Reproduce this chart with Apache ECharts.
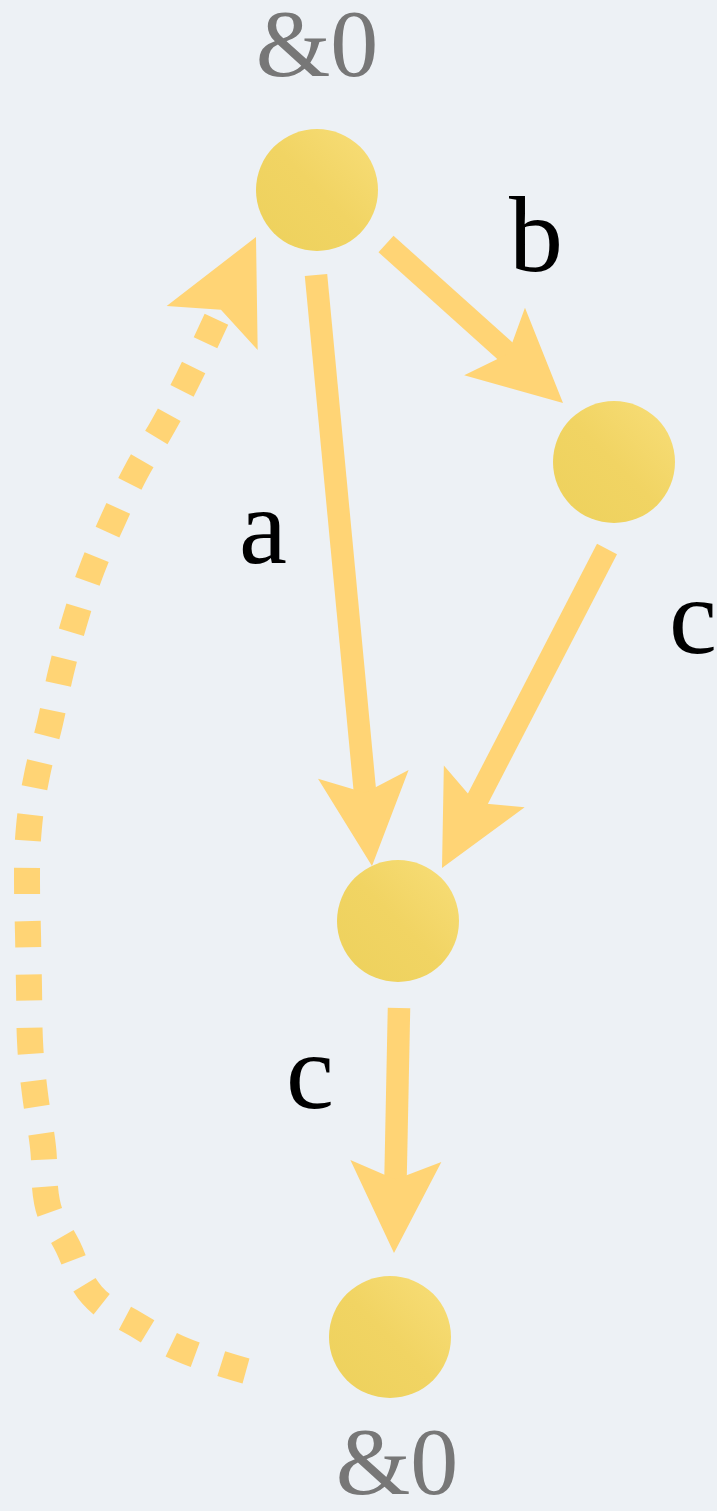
<!DOCTYPE html>
<html>
<head>
<meta charset="utf-8">
<script src="https://cdn.jsdelivr.net/npm/echarts@6/dist/echarts.min.js"></script>
<style>
    html, body { margin: 0; padding: 0; background: #EDF1F5; }
    #chart { width: 717px; height: 1511px; }
</style>
</head>
<body>
<div id="chart"></div>
<script>
// nodes, in layout units (x to the right, y downwards)
const nodeX = [317, 614, 398, 390];
const nodeY = [190, 462, 921, 1337];
const nodeTag = ["&0", "", "", "&0"];
const tagX = [317, null, null, 397];
const tagY = [51, null, null, 1469];

// solid edges: start of the shaft -> tip of the arrow
const edgeName = ["a", "b", "c", "c"];
const edgeX0 = [316, 386, 607, 399];
const edgeY0 = [275, 244, 549, 1008];
const edgeX1 = [372, 563, 442, 394];
const edgeY1 = [866, 403, 868, 1253];
const edgeLabelX = [263, 536, 693, 310];
const edgeLabelY = [535, 243, 625, 1080];

// dotted edge from the last &0 back to the first one
const loopX = [246, 183, 137, 92, 68, 47, 43, 35, 30, 29, 28, 27, 29, 37, 50, 61, 75, 92, 113, 136, 163, 188, 217];
const loopY = [1371, 1350, 1325, 1295, 1247, 1202, 1147, 1094, 1041, 987, 934, 881, 827, 775, 723, 672, 620, 569, 520, 472, 426, 379, 318];
const loopTip = [256, 237];

const EDGE_COLOR = "#FFD475";
const TEXT_FONT = "\"Liberation Serif\", \"DejaVu Serif\", serif";

function arrowHead(tip, d, len, wid) {
    const n = [-d[1], d[0]];
    const bx = tip[0] - d[0] * len;
    const by = tip[1] - d[1] * len;
    return [
        tip,
        [bx + n[0] * wid / 2, by + n[1] * wid / 2],
        [tip[0] - d[0] * len * 0.8, tip[1] - d[1] * len * 0.8],
        [bx - n[0] * wid / 2, by - n[1] * wid / 2],
    ];
}

function textEl(x, y, text, size, color) {
    return {
        type: "text",
        x: x,
        y: y,
        style: {
            text: text,
            fill: color,
            font: size + "px " + TEXT_FONT,
            align: "center",
            verticalAlign: "middle",
        },
    };
}

const chart = echarts.init(document.getElementById("chart"));

chart.setOption({
    backgroundColor: "#EDF1F5",
    animation: false,
    grid: { left: 0, right: 0, top: 0, bottom: 0 },
    xAxis: { type: "value", min: 0, max: 717, show: false },
    yAxis: { type: "value", min: 0, max: 1511, inverse: true, show: false },
    series: [
        {
            // dotted back edge
            name: "loop",
            type: "line",
            silent: true,
            smooth: 0.4,
            showSymbol: false,
            symbol: "none",
            data: loopX.map((x, i) => [x, loopY[i]]),
            lineStyle: {
                color: EDGE_COLOR,
                width: 26,
                type: [26, 27.3],
                cap: "butt",
                join: "miter",
            },
            z: 1,
        },
        {
            // arrow head of the dotted edge
            name: "loopArrow",
            type: "custom",
            silent: true,
            data: [[loopX[loopX.length - 1], loopY[loopY.length - 1], loopTip[0], loopTip[1]]],
            renderItem: function (params, api) {
                const p0 = api.coord([api.value(0), api.value(1)]);
                const p1 = api.coord([api.value(2), api.value(3)]);
                const l = Math.hypot(p1[0] - p0[0], p1[1] - p0[1]);
                const d = [(p1[0] - p0[0]) / l, (p1[1] - p0[1]) / l];
                return {
                    type: "polygon",
                    shape: { points: arrowHead(p1, d, 101, 101) },
                    style: { fill: EDGE_COLOR },
                };
            },
            z: 2,
        },
        {
            // solid edges with their letters
            name: "edges",
            type: "custom",
            silent: true,
            data: edgeName.map((n, i) => [edgeX0[i], edgeY0[i], edgeX1[i], edgeY1[i], edgeLabelX[i], edgeLabelY[i]]),
            renderItem: function (params, api) {
                const p0 = api.coord([api.value(0), api.value(1)]);
                const p1 = api.coord([api.value(2), api.value(3)]);
                const lp = api.coord([api.value(4), api.value(5)]);
                const l = Math.hypot(p1[0] - p0[0], p1[1] - p0[1]);
                const d = [(p1[0] - p0[0]) / l, (p1[1] - p0[1]) / l];
                const len = 92;
                return {
                    type: "group",
                    children: [
                        {
                            type: "line",
                            shape: {
                                x1: p0[0], y1: p0[1],
                                x2: p1[0] - d[0] * len * 0.7,
                                y2: p1[1] - d[1] * len * 0.7,
                            },
                            style: { stroke: EDGE_COLOR, lineWidth: 22.5, lineCap: "butt" },
                        },
                        {
                            type: "polygon",
                            shape: { points: arrowHead(p1, d, len, 91) },
                            style: { fill: EDGE_COLOR },
                        },
                        textEl(lp[0], lp[1], edgeName[params.dataIndex], 108, "#000000"),
                    ],
                };
            },
            z: 3,
        },
        {
            // nodes
            name: "nodes",
            type: "custom",
            silent: true,
            data: nodeX.map((x, i) => [x, nodeY[i]]),
            renderItem: function (params, api) {
                const i = params.dataIndex;
                const c = api.coord([api.value(0), api.value(1)]);
                const children = [
                    {
                        type: "circle",
                        shape: { cx: c[0], cy: c[1], r: 61 },
                        style: {
                            fill: new echarts.graphic.LinearGradient(0, 1, 1, 0, [
                                { offset: 0, color: "#EDD15C" },
                                { offset: 0.5, color: "#F1D463" },
                                { offset: 1, color: "#F8DE79" },
                            ]),
                        },
                    },
                ];
                if (nodeTag[i]) {
                    const t = api.coord([tagX[i], tagY[i]]);
                    children.push(textEl(t[0], t[1], nodeTag[i], 96, "#777777"));
                }
                return { type: "group", children: children };
            },
            z: 4,
        },
    ],
});
</script>
</body>
</html>
